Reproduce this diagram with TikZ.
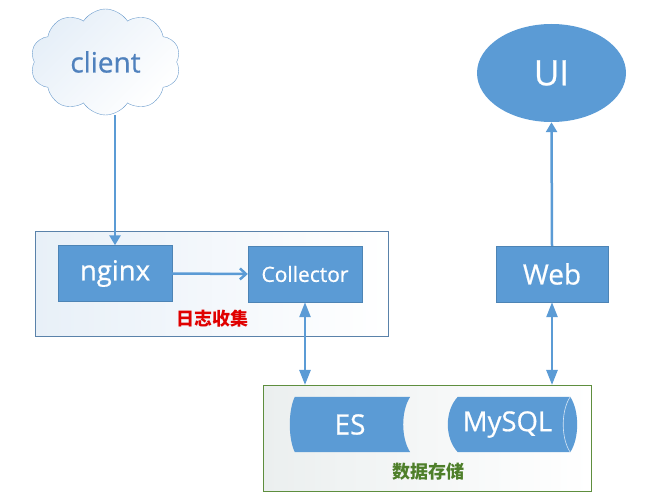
\documentclass[tikz,border=0pt]{standalone}
\usepackage{fontspec}
\setmainfont{Open Sans}[FakeBold=0.6]
\newfontfamily\boxfont{Open Sans}[FakeBold=0.6]
\newfontfamily\cjk{Noto Sans CJK SC}
\usetikzlibrary{shapes.symbols,shapes.geometric,arrows.meta}
\definecolor{boxblue}{HTML}{5B9BD5}
\definecolor{cloudline}{HTML}{6A9BCC}
\definecolor{cloudfill}{HTML}{E6EFF8}
\definecolor{clienttext}{HTML}{4F81BD}
\definecolor{logline}{HTML}{5A82AA}
\definecolor{logfill}{HTML}{E8F0F8}
\definecolor{storeline}{HTML}{5E8E3E}
\definecolor{storefill}{HTML}{EBEFEF}
\definecolor{logred}{HTML}{E00000}
\definecolor{storegreen}{HTML}{4E7F2A}

\begin{document}
\begin{tikzpicture}[x=1pt, y=-1pt,
    box/.style={fill=boxblue, draw=boxblue!85!black, line width=0.4pt, text=white,
        minimum width=114pt, minimum height=56pt, inner sep=0pt},
    store/.style={minimum width=120pt, minimum height=55pt, inner sep=0pt, text=white},
    link/.style={draw=boxblue, line width=2.5pt},
    grouplabel/.style={font=\cjk\bfseries\fontsize{18}{18}\selectfont}]
    \useasboundingbox (0,0) rectangle (662,497);
    % group frames
    \draw[logline, line width=1pt, left color=logfill, right color=white]
        (35,232) rectangle (388,337);
    \draw[storeline, line width=1pt, left color=storefill, right color=white]
        (263,385) rectangle (591,491);
    \node[grouplabel, text=logred] (loglabel) at (212,319) {日志收集};
    \node[grouplabel, text=storegreen] (storelabel) at (428,472) {数据存储};
    % nodes
    \node[cloud, cloud puffs=10, cloud puff arc=115, aspect=1.4, draw=cloudline,
        left color=cloudfill, right color=white, shading angle=45,
        minimum width=150pt, minimum height=106pt, text=clienttext,
        font=\boxfont\fontsize{28}{28}\selectfont] (client) at (105.5,62) {client};
    \node[box, font=\boxfont\fontsize{27.5}{27.5}\selectfont] (nginx) at (115,273.5) {nginx};
    \node[box, font=\boxfont\fontsize{21}{21}\selectfont] (collector) at (305,274) {Collector};
    \node[box, minimum width=112pt, font=\boxfont\fontsize{28}{28}\selectfont] (web) at (552,274) {Web};
    \node[ellipse, fill=boxblue, minimum width=149pt, minimum height=98pt, text=white,
        font=\boxfont\fontsize{35}{35}\selectfont] (ui) at (551.5,73) {UI};
    \coordinate (storetop) at (428,385);
    % storage shapes
    \node[store] (es) at (350,424.5) {};
    \fill[boxblue] ([xshift=5pt]es.north west) -- (es.north east)
        .. controls ([xshift=-9.3pt,yshift=-14pt]es.north east) and ([xshift=-9.3pt,yshift=14pt]es.south east) .. (es.south east)
        -- ([xshift=5pt]es.south west)
        .. controls ([xshift=-1.7pt,yshift=14pt]es.south west) and ([xshift=-1.7pt,yshift=-14pt]es.north west) .. cycle;
    \node[text=white, font=\boxfont\fontsize{28}{28}\selectfont] at (es) {ES};
    \node[store, minimum width=129pt] (mysql) at (512.5,424.5) {};
    \fill[boxblue] ([xshift=10pt]mysql.north west) -- ([xshift=-7pt]mysql.north east)
        .. controls ([xshift=2.3pt,yshift=-14pt]mysql.north east) and ([xshift=2.3pt,yshift=14pt]mysql.south east) .. ([xshift=-7pt]mysql.south east)
        -- ([xshift=10pt]mysql.south west)
        .. controls ([xshift=-3.3pt,yshift=14pt]mysql.south west) and ([xshift=-3.3pt,yshift=-14pt]mysql.north west) .. cycle;
    \draw[white!75!boxblue, line width=0.6pt] ([xshift=-7pt]mysql.north east)
        .. controls ([xshift=-16.3pt,yshift=-14pt]mysql.north east) and ([xshift=-16.3pt,yshift=14pt]mysql.south east) .. ([xshift=-7pt]mysql.south east);
    \node[text=white, font=\boxfont\fontsize{27.5}{27.5}\selectfont] at ([xshift=-5pt]mysql.center) {MySQL};
    % connectors
    \draw[link, -{Triangle[width=11pt,length=10pt]}] (client.south -| nginx.north) -- (nginx.north);
    \draw[link, -{Straight Barb[width=11pt,length=6pt,line width=2.5pt]}] (nginx.east) -- (collector.west);
    \draw[link, {Triangle[width=11pt,length=15pt]}-{Triangle[width=11pt,length=15pt]}]
        (collector.south) -- (collector.south |- storetop);
    \draw[link, {Triangle[width=11pt,length=15pt]}-{Triangle[width=11pt,length=15pt]}]
        (web.south) -- (web.south |- storetop);
    \draw[link, -{Triangle[width=11pt,length=10pt]}] (web.north) -- (ui.south);
\end{tikzpicture}
\end{document}
